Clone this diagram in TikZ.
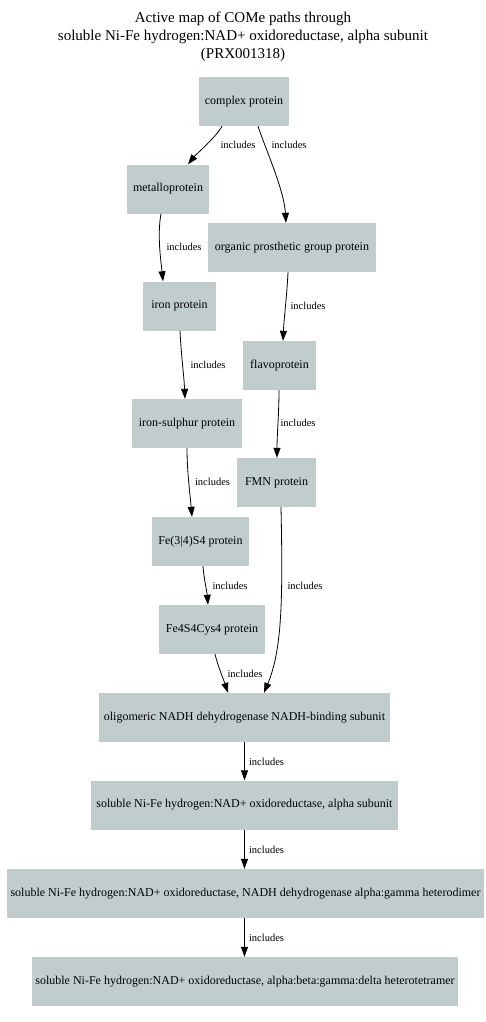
\documentclass[tikz,border=0pt]{standalone}
\usepackage{fontspec}
\setmainfont{Liberation Serif}
\usetikzlibrary{arrows.meta}
\definecolor{nodefill}{HTML}{C1CDCD}
\begin{document}
\begin{tikzpicture}[x=1bp,y=-1bp,
  box/.style={fill=nodefill, draw=none, inner sep=0pt, minimum height=49bp, font=\fontsize{12bp}{14bp}\selectfont},
  lab/.style={inner sep=0pt, font=\fontsize{10.5bp}{12bp}\selectfont},
  edge/.style={draw=black, line width=0.8bp, -{Triangle[length=10bp,width=7bp]}}]
\useasboundingbox (0,0) rectangle (486,1022);
\node[align=center, inner sep=0pt, font=\fontsize{15bp}{18bp}\selectfont] (title) at (243,37)
  {Active map of COMe paths through\\soluble Ni-Fe hydrogen:NAD+ oxidoreductase, alpha subunit\\(PRX001318)};
\node[box, minimum width=90bp] (cp) at (244,101.5) {complex protein};
\node[box, minimum width=82bp] (mp) at (168,189) {metalloprotein};
\node[box, minimum width=168bp] (og) at (292,247.5) {organic prosthetic group protein};
\node[box, minimum width=73bp] (ir) at (179.5,306) {iron protein};
\node[box, minimum width=73bp] (fl) at (279.5,365.5) {flavoprotein};
\node[box, minimum width=110bp] (is) at (187,423.5) {iron-sulphur protein};
\node[box, minimum width=79bp] (fmn) at (276.5,482.5) {FMN protein};
\node[box, minimum width=97bp] (fe34) at (200.5,541.5) {Fe(3|4)S4 protein};
\node[box, minimum width=106bp] (fe4) at (212,629.5) {Fe4S4Cys4 protein};
\node[box, minimum width=291bp] (ol) at (244.5,717.5) {oligomeric NADH dehydrogenase NADH-binding subunit};
\node[box, minimum width=307bp] (al) at (244.5,805) {soluble Ni-Fe hydrogen:NAD+ oxidoreductase, alpha subunit};
\node[box, minimum width=477bp] (hd) at (245.5,893.5) {soluble Ni-Fe hydrogen:NAD+ oxidoreductase, NADH dehydrogenase alpha:gamma heterodimer};
\node[box, minimum width=426bp] (ht) at (245,981.5) {soluble Ni-Fe hydrogen:NAD+ oxidoreductase, alpha:beta:gamma:delta heterotetramer};

\draw[edge] ([xshift=-22bp]cp.south) .. controls +(-6,11) and +(8,-10) .. ([xshift=20bp]mp.north);
\draw[edge] ([xshift=14bp]cp.south) .. controls +(8,24) and +(-2,-33) .. ([xshift=-6bp]og.north);
\draw[edge] ([xshift=-7bp]mp.south) .. controls +(-4,22) and +(-2,-20) .. ([xshift=-16.5bp]ir.north);
\draw[edge] ([xshift=-4bp]og.south) .. controls +(-1,23) and +(1,-23) .. ([xshift=3.5bp]fl.north);
\draw[edge] ([xshift=0.5bp]ir.south) .. controls +(1,23) and +(-1,-23) .. ([xshift=-2bp]is.north);
\draw[edge] ([xshift=-0.5bp]fl.south) .. controls +(0,23) and +(0,-23) .. ([xshift=0.5bp]fmn.north);
\draw[edge] (is.south) .. controls +(0,23) and +(-2,-23) .. ([xshift=-8.5bp]fe34.north);
\draw[edge] ([xshift=2.5bp]fe34.south) .. controls +(1,13) and +(-1,-13) .. ([xshift=-4bp]fe4.north);
\draw[edge] ([xshift=3bp]fe4.south) .. controls +(3,12) and +(-4,-12) .. ([xshift=-16.5bp]ol.north);
\draw[edge] ([xshift=4.5bp]fmn.south) .. controls +(2,93) and +(18,-43) .. ([xshift=19.5bp]ol.north);
\draw[edge] (ol.south) -- (al.north);
\draw[edge] ([xshift=0bp]al.south) -- ([xshift=-1bp]hd.north);
\draw[edge] ([xshift=-1bp]hd.south) -- ([xshift=-0.5bp]ht.north);

\node[lab] (l1) at (238,145) {includes};
\node[lab] (l2) at (289,145) {includes};
\node[lab] (l3) at (184,247) {includes};
\node[lab] (l4) at (308,306) {includes};
\node[lab] (l5) at (208,365) {includes};
\node[lab] (l6) at (298,423) {includes};
\node[lab] (l7) at (212.5,482) {includes};
\node[lab] (l8) at (230,586) {includes};
\node[lab] (l9) at (305,586) {includes};
\node[lab] (l10) at (245,674) {includes};
\node[lab] (l11) at (266.5,761.5) {includes};
\node[lab] (l12) at (266.5,849.5) {includes};
\node[lab] (l13) at (266.5,937.5) {includes};
\end{tikzpicture}
\end{document}
